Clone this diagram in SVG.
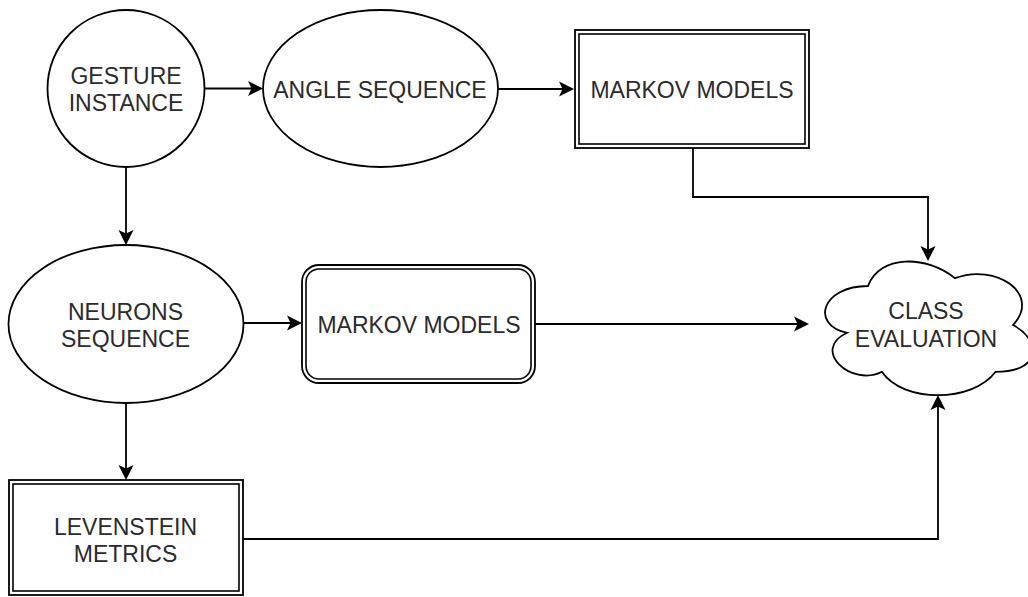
<svg xmlns="http://www.w3.org/2000/svg" width="1028" height="597" viewBox="0 0 1028 597">
  <style>
    .shape { fill: #ffffff; stroke: #000000; stroke-width: 1.8; }
    .inner { fill: none; stroke: #000000; stroke-width: 1.6; }
    .label { font-family: "Liberation Sans", Arial, Helvetica, sans-serif; font-size: 23px; fill: #2b2b2b; text-anchor: middle; }
    .edge { fill: none; stroke: #000000; stroke-width: 1.8; }
  </style>
  <defs>
    <!-- classic notched arrowhead; the tip sits 3px past the path end -->
    <marker id="arrow" viewBox="0 0 15 16" refX="12" refY="8" markerWidth="15" markerHeight="16" orient="auto" markerUnits="userSpaceOnUse">
      <path d="M0,0.5 L15,8 L0,15.5 L3.5,8 Z" fill="#000000"/>
    </marker>
  </defs>
  <rect width="1028" height="597" fill="#ffffff"/>

  <g id="connectors">
    <path class="edge" d="M205,88.5 H260" marker-end="url(#arrow)"/>
    <path class="edge" d="M498,89 H571" marker-end="url(#arrow)"/>
    <path class="edge" d="M126,167 V242" marker-end="url(#arrow)"/>
    <path class="edge" d="M126,403 V477" marker-end="url(#arrow)"/>
    <path class="edge" d="M243,323 H299" marker-end="url(#arrow)"/>
    <path class="edge" d="M535,324 H806" marker-end="url(#arrow)"/>
    <path class="edge" d="M693,148 V197 H928 V258" marker-end="url(#arrow)"/>
    <path class="edge" d="M243,539 H938 V398" marker-end="url(#arrow)"/>
  </g>

  <g id="gesture-instance">
    <circle class="shape" cx="126" cy="88.5" r="78.5"/>
    <text class="label" x="126" y="84">GESTURE</text>
    <text class="label" x="126" y="111">INSTANCE</text>
  </g>

  <g id="angle-sequence">
    <ellipse class="shape" cx="380.5" cy="88.5" rx="117.5" ry="78.5"/>
    <text class="label" x="380" y="98">ANGLE SEQUENCE</text>
  </g>

  <g id="markov-models-angle">
    <rect class="shape" x="575" y="30" width="234" height="118"/>
    <rect class="inner" x="579" y="34" width="226" height="110"/>
    <text class="label" x="692" y="98">MARKOV MODELS</text>
  </g>

  <g id="neurons-sequence">
    <ellipse class="shape" cx="126" cy="324" rx="117.5" ry="79"/>
    <text class="label" x="125.5" y="320">NEURONS</text>
    <text class="label" x="125.5" y="347">SEQUENCE</text>
  </g>

  <g id="markov-models-neurons">
    <rect class="shape" x="302" y="265" width="233" height="118" rx="17" ry="17"/>
    <rect class="inner" x="306" y="269" width="225" height="110" rx="13" ry="13"/>
    <text class="label" x="419" y="332.5">MARKOV MODELS</text>
  </g>

  <g id="levenstein-metrics">
    <rect class="shape" x="9" y="480" width="234" height="115"/>
    <rect class="inner" x="13" y="484" width="226" height="107"/>
    <text class="label" x="125.5" y="535">LEVENSTEIN</text>
    <text class="label" x="125.5" y="561.5">METRICS</text>
  </g>

  <g id="class-evaluation">
    <path class="shape" d="M868,286 C821.6,286 810,325 847.1,332.8 C810,350 851.8,387.4 881.9,371.8 C902.8,403 972.4,403 995.6,371.8 C1042,371.8 1042,340.6 1013,325 C1042,293.8 995.6,262.6 955,278.2 C926,254.8 879.6,254.8 868,286 Z"/>
    <text class="label" x="926" y="319">CLASS</text>
    <text class="label" x="926" y="347">EVALUATION</text>
  </g>
</svg>
